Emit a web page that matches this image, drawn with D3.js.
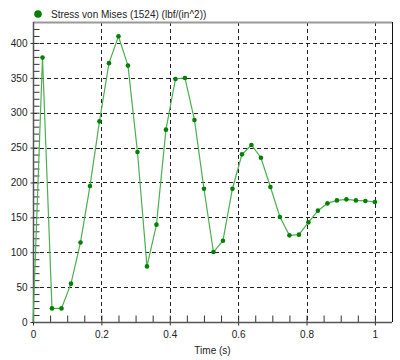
<!DOCTYPE html>
<html>
<head>
<meta charset="utf-8">
<script src="https://cdn.jsdelivr.net/npm/d3@7"></script>
<style>
  html, body { margin: 0; padding: 0; background: #fff; }
  svg { display: block; font-family: "Liberation Sans", Arial, sans-serif; }
</style>
</head>
<body>
<svg id="chart" width="400" height="360"></svg>
<script>
const seriesName = "Stress von Mises (1524) (lbf/(in^2))";
const xLabel = "Time (s)";
const times = [0, 1/36, 2/36, 3/36, 4/36, 5/36, 6/36, 7/36, 8/36, 9/36, 10/36, 11/36, 12/36,
  13/36, 14/36, 15/36, 16/36, 17/36, 18/36, 19/36, 20/36, 21/36, 22/36, 23/36, 24/36,
  25/36, 26/36, 27/36, 28/36, 29/36, 30/36, 31/36, 32/36, 33/36, 34/36, 35/36, 1];
const stress = [0, 379, 19.5, 19.5, 55, 114, 195, 287.6, 371, 409.5, 367.5, 243.7, 79.7,
  139.5, 275.7, 348.4, 349.8, 289.6, 191, 100.3, 116.5, 191, 240.3, 253.7, 235.5,
  193.5, 150.5, 124.2, 125.2, 142.8, 159.6, 170, 174.3, 175.8, 174.3, 173.5, 172];
const xTicks = [0, 0.2, 0.4, 0.6, 0.8, 1];
const xTickLabels = ["0", "0.2", "0.4", "0.6", "0.8", "1"];
const yTicks = [0, 50, 100, 150, 200, 250, 300, 350, 400];

const svg = d3.select("#chart");
const L = 33, R = 392, T = 22, B = 322;
const x = d3.scaleLinear().domain([0, 1.05]).range([L, R]);
const y = d3.scaleLinear().domain([0, 430]).range([B, T]);

const xMinor = d3.range(0, 1.0001, 0.05);
const yMinor = d3.range(0, 430, 10);

// grid
const grid = svg.append("g");
grid.selectAll("line.h").data(yTicks.filter(d => d > 0)).join("line")
  .attr("x1", L).attr("x2", R)
  .attr("y1", d => Math.round(y(d)) + 0.5).attr("y2", d => Math.round(y(d)) + 0.5)
  .attr("stroke", "#222").attr("stroke-dasharray", "4,3");
grid.selectAll("line.v").data(xTicks.filter(d => d > 0)).join("line")
  .attr("x1", d => Math.round(x(d)) + 0.5).attr("x2", d => Math.round(x(d)) + 0.5)
  .attr("y1", T).attr("y2", B)
  .attr("stroke", "#222").attr("stroke-dasharray", "4,3");

// borders
svg.append("line").attr("x1", L).attr("x2", R).attr("y1", T + 0.5).attr("y2", T + 0.5)
  .attr("stroke", "#999").attr("stroke-width", 2);
svg.append("line").attr("x1", R + 0.5).attr("x2", R + 0.5).attr("y1", T).attr("y2", B)
  .attr("stroke", "#111");

// minor ticks inside
const yMinorAxis = d3.axisLeft(y).tickValues(yMinor).tickSize(-6).tickFormat("");
svg.append("g").attr("transform", `translate(${L + 0.5},0)`).call(yMinorAxis)
  .call(g => g.select(".domain").remove())
  .selectAll("line").attr("stroke", "#333");
const xMinorAxis = d3.axisBottom(x).tickValues(xMinor).tickSize(-7).tickFormat("");
svg.append("g").attr("transform", `translate(0,${B + 0.5})`).call(xMinorAxis)
  .call(g => g.select(".domain").remove())
  .selectAll("line").attr("stroke", "#333");

// major axes
const yAxis = d3.axisLeft(y).tickValues(yTicks).tickSize(3).tickPadding(3).tickSizeOuter(0);
const gy = svg.append("g").attr("transform", `translate(${L + 0.5},0)`).call(yAxis);
gy.select(".domain").attr("stroke", "#555").attr("stroke-width", 1.5).attr("d", `M0,${T}V${B}`);
gy.selectAll("line").attr("stroke", "#333");
gy.selectAll("text").attr("font-size", 10).attr("fill", "#222").attr("font-family", "Liberation Sans, Arial, sans-serif");

const xAxis = d3.axisBottom(x).tickValues(xTicks).tickFormat((d, i) => xTickLabels[i])
  .tickSize(3).tickPadding(5).tickSizeOuter(0);
const gx = svg.append("g").attr("transform", `translate(0,${B + 0.5})`).call(xAxis);
gx.select(".domain").attr("stroke", "#555").attr("stroke-width", 1.5).attr("d", `M${L},0H${R}`);
gx.selectAll("line").attr("stroke", "#333");
gx.selectAll("text").attr("font-size", 10).attr("fill", "#222").attr("font-family", "Liberation Sans, Arial, sans-serif");

// x label
svg.append("text").attr("x", (L + R) / 2).attr("y", 354).attr("text-anchor", "middle")
  .attr("font-size", 10).attr("fill", "#222").text(xLabel);

// series
const data = times.map((t, i) => ({ t, v: stress[i] }));
svg.append("path").datum(data)
  .attr("fill", "none").attr("stroke", "#4caf50").attr("stroke-width", 1.2)
  .attr("d", d3.line().x(d => x(d.t)).y(d => y(d.v)));
svg.append("g").selectAll("circle").data(data.slice(1)).join("circle")
  .attr("cx", d => x(d.t)).attr("cy", d => y(d.v)).attr("r", 2.3)
  .attr("fill", "#008000");

// legend
svg.append("circle").attr("cx", 38).attr("cy", 14).attr("r", 3.8).attr("fill", "#008000");
svg.append("text").attr("x", 51).attr("y", 18).attr("font-size", 10).attr("fill", "#222").text(seriesName);
</script>
</body>
</html>
